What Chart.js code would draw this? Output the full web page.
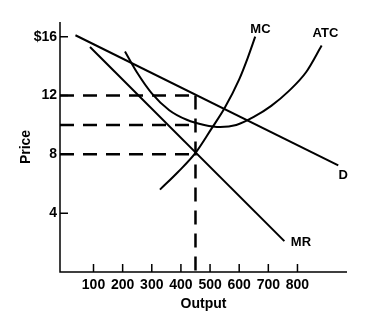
<!DOCTYPE html>
<html>
<head>
<meta charset="utf-8">
<script src="https://cdn.jsdelivr.net/npm/chart.js@4.4.1/dist/chart.umd.min.js"></script>
<style>
  html, body { margin: 0; padding: 0; background: #fff; }
  #wrap { width: 379px; height: 321px; }
</style>
</head>
<body>
<div id="wrap"><canvas id="chart"></canvas></div>
<script>
// curve data (quantity, price)
const demandQ = [38, 940];
const demandP = [16.1, 7.25];
const mrQ = [88, 755];
const mrP = [15.3, 2.1];
const mcQ = [328, 390, 450, 505, 550, 600, 630, 655];
const mcP = [5.6, 6.8, 8.1, 9.75, 11.15, 13.1, 14.6, 16];
const atcQ = [208, 250, 300, 360, 420, 480, 535, 590, 650, 710, 770, 830, 883];
const atcP = [15.0, 13.55, 12.15, 11.0, 10.35, 10.0, 9.86, 10.0, 10.55, 11.3, 12.3, 13.6, 15.4];

// profit max output and reference prices
const qStar = 450;
const priceLevels = [12, 10, 8];

// axis ticks
const xTicks = [100, 200, 300, 400, 500, 600, 700, 800];
const yTicks = [4, 8, 12, 16];

// curve labels
const curveLabels = [
    { text: 'MC', q: 673, p: 16.5 },
    { text: 'ATC', q: 896, p: 16.2 },
    { text: 'D', q: 957, p: 6.6 },
    { text: 'MR', q: 812, p: 2.0 }
];

const X_MIN = -15, X_MAX = 970, Y_MIN = 0, Y_MAX = 17;
const family = '"Liberation Sans", Arial, sans-serif';

const pts = (qs, ps) => qs.map((q, i) => ({ x: q, y: ps[i] }));

const curve = (data, smooth) => ({
    type: 'line',
    data: data,
    borderColor: '#000',
    borderWidth: 2,
    pointRadius: 0,
    fill: false,
    tension: smooth ? 0.4 : 0,
    cubicInterpolationMode: smooth ? 'monotone' : 'default'
});

const dashed = (data) => ({
    type: 'line',
    data: data,
    borderColor: '#000',
    borderWidth: 2.5,
    borderDash: [14, 9],
    pointRadius: 0,
    fill: false,
    tension: 0
});

const datasets = [
    curve(pts(demandQ, demandP), false),
    curve(pts(mrQ, mrP), false),
    curve(pts(mcQ, mcP), true),
    curve(pts(atcQ, atcP), true),
    ...priceLevels.map(p => dashed([{ x: X_MIN, y: p }, { x: qStar, y: p }])),
    dashed([{ x: qStar, y: priceLevels[0] }, { x: qStar, y: 0 }])
];

// axes with inward tick marks + curve labels
const extras = {
    id: 'extras',
    afterDraw(chart) {
        const ctx = chart.ctx;
        const xs = chart.scales.x, ys = chart.scales.y;
        const area = chart.chartArea;
        ctx.save();
        ctx.strokeStyle = '#000';
        ctx.lineWidth = 1.5;
        ctx.beginPath();
        ctx.moveTo(area.left, area.top);
        ctx.lineTo(area.left, area.bottom);
        ctx.lineTo(area.right, area.bottom);
        xTicks.forEach(v => {
            const px = xs.getPixelForValue(v);
            ctx.moveTo(px, area.bottom);
            ctx.lineTo(px, area.bottom - 8);
        });
        yTicks.forEach(v => {
            const py = ys.getPixelForValue(v);
            ctx.moveTo(area.left, py);
            ctx.lineTo(area.left + 8, py);
        });
        ctx.stroke();

        ctx.fillStyle = '#000';
        ctx.font = 'bold 13px ' + family;
        ctx.textAlign = 'center';
        ctx.textBaseline = 'middle';
        curveLabels.forEach(l => {
            ctx.fillText(l.text, xs.getPixelForValue(l.q), ys.getPixelForValue(l.p));
        });
        ctx.restore();
    }
};

new Chart(document.getElementById('chart'), {
    type: 'line',
    data: { datasets: datasets },
    options: {
        responsive: true,
        maintainAspectRatio: false,
        animation: false,
        layout: { padding: { top: 22, right: 32, bottom: 8, left: 18 } },
        plugins: {
            legend: { display: false },
            tooltip: { enabled: false }
        },
        scales: {
            x: {
                type: 'linear',
                min: X_MIN,
                max: X_MAX,
                afterBuildTicks: s => { s.ticks = xTicks.map(v => ({ value: v })); },
                afterFit: s => { s.height = 41; },
                grid: { display: false, drawTicks: false },
                border: { display: false },
                ticks: { color: '#000', font: { family: family, size: 14, weight: 'bold' }, padding: 5, maxRotation: 0, autoSkip: false },
                title: { display: true, text: 'Output', color: '#000', font: { family: family, size: 14, weight: 'bold' }, padding: 0 }
            },
            y: {
                type: 'linear',
                min: Y_MIN,
                max: Y_MAX,
                afterBuildTicks: s => { s.ticks = yTicks.map(v => ({ value: v })); },
                afterFit: s => { s.width = 42; },
                grid: { display: false, drawTicks: false },
                border: { display: false },
                ticks: {
                    color: '#000',
                    font: { family: family, size: 14, weight: 'bold' },
                    padding: 3,
                    callback: v => v === 16 ? '$16' : String(v)
                },
                title: { display: true, text: 'Price', color: '#000', font: { family: family, size: 14, weight: 'bold' }, padding: 0 }
            }
        }
    },
    plugins: [extras]
});
</script>
</body>
</html>
